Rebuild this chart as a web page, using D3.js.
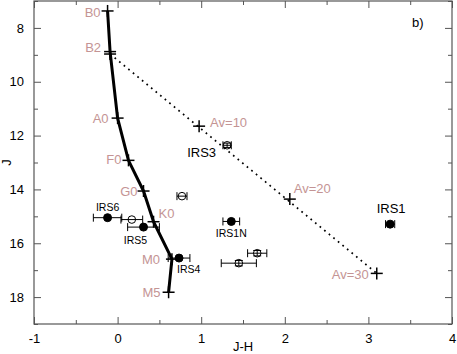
<html>
<head>
  <meta charset='utf-8' />
  <style>
    body { margin: 0; padding: 0; background: white; }
    text { font-family: 'Liberation Sans', Arial, sans-serif; }
  </style>
</head>
<body>
  <svg width='457' height='354'></svg>
</body>

<script src="https://d3js.org/d3.v7.min.js"></script>

<script>
///////////////////
/// Data
///////////////////

  // main sequence (spectral types)
  spTypes = ['B0', 'B2', 'A0', 'F0', 'G0', 'K0', 'M0', 'M5'];
  spJH    = [-0.12, -0.09, 0.0, 0.13, 0.31, 0.43, 0.65, 0.61];
  spJ     = [7.37, 8.88, 11.35, 12.92, 14.06, 15.2, 16.59, 17.82];

  // reddening vector from B2
  redLabels = ['', 'Av=10', 'Av=20', 'Av=30'];
  redJH     = [-0.09, 0.975, 2.06, 3.1];
  redJ      = [8.97, 11.65, 14.36, 17.12];

  // sources
  srcNames  = ['IRS6', '', 'IRS5', 'IRS3', '', 'IRS1N', 'IRS1', 'IRS4', '', ''];
  srcJH     = [-0.12, 0.17, 0.31, 1.31, 0.77, 1.36, 3.26, 0.735, 1.67, 1.45];
  srcJ      = [15.05, 15.12, 15.4, 12.36, 14.25, 15.19, 15.29, 16.55, 16.37, 16.74];
  srcErrJH  = [0.17, 0.13, 0.19, 0.05, 0.06, 0.1, 0.055, 0.13, 0.115, 0.21];
  srcErrJ   = [0, 0, 0, 0.08, 0, 0, 0, 0, 0.1, 0.1];
  srcFilled = [true, false, true, false, false, true, true, true, false, false];

  xMajor = [-1, 0, 1, 2, 3, 4];
  xMinor = [-0.5, 0.5, 1.5, 2.5, 3.5];
  yMajor = [8, 10, 12, 14, 16, 18];
  yMinor = [7, 9, 11, 13, 15, 17, 19];

///////////////////
/// Setup
///////////////////

  svg = d3.select('svg');
  pink = '#c49494';
  axisCol = '#555';

  x = d3.scaleLinear().domain([-1, 4]).range([34, 452]);
  y = d3.scaleLinear().domain([7, 19]).range([1, 324]);

  function styleAxis(g) {
    g.select('.domain').remove();
    g.selectAll('.tick line').attr('stroke', axisCol);
    g.selectAll('.tick text').attr('fill', 'black')
      .style('font-size', '13px').style('font-family', "'Liberation Sans', Arial, sans-serif");
  }

  // bottom
  svg.append('g').attr('transform', 'translate(0,324)')
    .call(d3.axisBottom(x).tickValues(xMajor).tickSize(-7).tickPadding(10).tickFormat(d => String(d)))
    .call(styleAxis);
  svg.append('g').attr('transform', 'translate(0,324)')
    .call(d3.axisBottom(x).tickValues(xMinor).tickSize(-4).tickFormat(''))
    .call(styleAxis);
  // top
  svg.append('g').attr('transform', 'translate(0,1)')
    .call(d3.axisTop(x).tickValues(xMajor).tickSize(-7).tickFormat(''))
    .call(styleAxis);
  svg.append('g').attr('transform', 'translate(0,1)')
    .call(d3.axisTop(x).tickValues(xMinor).tickSize(-4).tickFormat(''))
    .call(styleAxis);
  // left
  svg.append('g').attr('transform', 'translate(34,0)')
    .call(d3.axisLeft(y).tickValues(yMajor).tickSize(-7).tickPadding(10))
    .call(styleAxis);
  svg.append('g').attr('transform', 'translate(34,0)')
    .call(d3.axisLeft(y).tickValues(yMinor).tickSize(-4).tickFormat(''))
    .call(styleAxis);
  // right
  svg.append('g').attr('transform', 'translate(452,0)')
    .call(d3.axisRight(y).tickValues(yMajor).tickSize(-7).tickFormat(''))
    .call(styleAxis);
  svg.append('g').attr('transform', 'translate(452,0)')
    .call(d3.axisRight(y).tickValues(yMinor).tickSize(-4).tickFormat(''))
    .call(styleAxis);

  // frame
  svg.append('rect')
    .attr('x', x(-1)).attr('y', y(7))
    .attr('width', x(4) - x(-1)).attr('height', y(19) - y(7))
    .attr('fill', 'none').attr('stroke', axisCol).attr('stroke-width', 1.2);

  // axis titles
  svg.append('text').attr('x', x(1.5)).attr('y', 351)
    .attr('text-anchor', 'middle').style('font-size', '13px').text('J-H');
  svg.append('text').attr('transform', `translate(11,${y(13)}) rotate(-90)`)
    .attr('text-anchor', 'middle').style('font-size', '13px').text('J');
  svg.append('text').attr('x', 412).attr('y', 27)
    .style('font-size', '13px').text('b)');

///////////////////
/// Reddening vector
///////////////////

  line = d3.line().x(d => x(d[0])).y(d => y(d[1]));
  redPts = redJH.map((d, i) => [d, redJ[i]]);

  svg.append('path').datum([redPts[0], redPts[redPts.length - 1]])
    .attr('d', line).attr('fill', 'none').attr('stroke', 'black')
    .attr('stroke-width', 1.7).attr('stroke-dasharray', '1.7,4.2');

  function cross(g, px, py, s) {
    g.append('line').attr('x1', px - s).attr('x2', px + s).attr('y1', py).attr('y2', py);
    g.append('line').attr('x1', px).attr('x2', px).attr('y1', py - s).attr('y2', py + s);
  }

  redG = svg.append('g').attr('stroke', 'black').attr('stroke-width', 1.5);
  redPts.forEach(d => cross(redG, x(d[0]), y(d[1]), 6));

  redOff = [null, [11, -4, 'start'], [4, -11, 'start'], [-8, 1, 'end']];
  svg.selectAll('.avlab').data(redLabels.slice(1)).enter().append('text')
    .attr('x', (d, i) => x(redJH[i + 1]) + redOff[i + 1][0])
    .attr('y', (d, i) => y(redJ[i + 1]) + redOff[i + 1][1])
    .attr('dy', '0.35em')
    .attr('text-anchor', (d, i) => redOff[i + 1][2])
    .attr('fill', pink).style('font-size', '13px').text(d => d);

///////////////////
/// Main sequence
///////////////////

  spPts = spJH.map((d, i) => [d, spJ[i]]);
  svg.append('path').datum(spPts)
    .attr('d', line).attr('fill', 'none').attr('stroke', 'black')
    .attr('stroke-width', 3).attr('stroke-linejoin', 'round');

  spG = svg.append('g').attr('stroke', 'black').attr('stroke-width', 1.5);
  spPts.forEach(d => cross(spG, x(d[0]), y(d[1]), 6));

  spOff = [[-7, 1, 'end'], [-9, -4, 'end'], [-9, 0, 'end'], [-7, -1, 'end'],
           [-6, 0, 'end'], [5, -8, 'start'], [-12, 0, 'end'], [-8, 0, 'end']];
  svg.selectAll('.splab').data(spTypes).enter().append('text')
    .attr('x', (d, i) => x(spJH[i]) + spOff[i][0])
    .attr('y', (d, i) => y(spJ[i]) + spOff[i][1])
    .attr('dy', '0.35em')
    .attr('text-anchor', (d, i) => spOff[i][2])
    .attr('fill', pink).style('font-size', '13px').text(d => d);

///////////////////
/// Sources
///////////////////

  srcG = svg.append('g').attr('stroke', 'black').attr('stroke-width', 1);
  srcJH.forEach((d, i) => {
    px = x(d); py = y(srcJ[i]);
    x0 = x(d - srcErrJH[i]); x1 = x(d + srcErrJH[i]);
    srcG.append('line').attr('x1', x0).attr('x2', x1).attr('y1', py).attr('y2', py);
    srcG.append('line').attr('x1', x0).attr('x2', x0).attr('y1', py - 4).attr('y2', py + 4);
    srcG.append('line').attr('x1', x1).attr('x2', x1).attr('y1', py - 4).attr('y2', py + 4);
    if (srcErrJ[i] > 0) {
      y0 = y(srcJ[i] - srcErrJ[i]); y1 = y(srcJ[i] + srcErrJ[i]);
      srcG.append('line').attr('x1', px).attr('x2', px).attr('y1', y0).attr('y2', y1);
      srcG.append('line').attr('x1', px - 4).attr('x2', px + 4).attr('y1', y0).attr('y2', y0);
      srcG.append('line').attr('x1', px - 4).attr('x2', px + 4).attr('y1', y1).attr('y2', y1);
    }
    srcG.append('circle').attr('cx', px).attr('cy', py)
      .attr('r', srcFilled[i] ? 4 : 3.8)
      .attr('fill', srcFilled[i] ? 'black' : 'none');
  });

  // name label offsets: dx, dy, anchor, size
  srcOff = {
    'IRS6': [0, -10, 'middle', 10.5],
    'IRS5': [-8, 13, 'middle', 10.5],
    'IRS3': [-11, 7, 'end', 13],
    'IRS1N': [0, 12, 'middle', 10.5],
    'IRS1': [1, -16, 'middle', 13],
    'IRS4': [-2, 11, 'start', 10.5]
  };
  svg.selectAll('.srclab').data(srcNames.map((d, i) => [d, i]).filter(d => d[0] !== ''))
    .enter().append('text')
    .attr('x', d => x(srcJH[d[1]]) + srcOff[d[0]][0])
    .attr('y', d => y(srcJ[d[1]]) + srcOff[d[0]][1])
    .attr('dy', '0.35em')
    .attr('text-anchor', d => srcOff[d[0]][2])
    .style('font-size', d => srcOff[d[0]][3] + 'px')
    .text(d => d[0]);

</script>
</html>
